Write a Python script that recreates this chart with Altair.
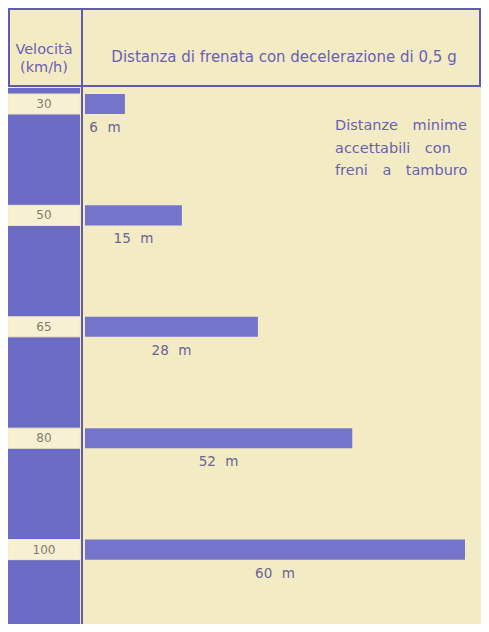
import altair as alt
import pandas as pd

# ---- data ----
speeds = [30, 50, 65, 80, 100]                 # km/h
distance_labels = [6, 15, 28, 52, 60]          # printed distances (m)
bar_lengths = [6.3, 15.3, 27.3, 42.2, 60.0]    # drawn bar lengths (m scale)
header_left = ["Velocità", "(km/h)"]
header_right = ["Distanza di frenata con decelerazione di 0,5 g"]
note_lines = ["Distanze\u2003minime", "accettabili\u2003con", "freni\u2003a\u2003tamburo"]

# ---- style ----
W, H = 473, 616
BG = "#f3ebc4"
BOX = "#f7f0d2"
BLUE = "#6c6bc5"
BAR = "#7475ca"
LINE = "#5d5cae"
PURPLE = "#6b5fb4"
NUM = "#857a6e"
LAB = "#6a6494"
FONT = "DejaVu Sans"

df = pd.DataFrame({
    "speed": [str(s) for s in speeds],
    "dist": distance_labels,
    "len": bar_lengths,
})
one = pd.DataFrame({"k": [0]})

yscale = alt.Scale(type="band", domain=[str(s) for s in speeds],
                   range=[40.3, 597.3], paddingInner=0.82, paddingOuter=0.41)
xscale = alt.Scale(domain=[0, 60], range=[77, 457])
Y = alt.Y("speed:O", scale=yscale, axis=None)

column = alt.Chart(one).mark_rect(color=BLUE).encode(
    x=alt.value(0), x2=alt.value(72), y=alt.value(80), y2=alt.value(H))

boxes = alt.Chart(df).mark_rect(color=BOX, stroke=BG, strokeWidth=1).encode(
    y=Y, x=alt.value(0), x2=alt.value(72))

bars = alt.Chart(df).mark_bar(color=BAR).encode(
    y=Y, x=alt.X("len:Q", scale=xscale, axis=None))

speed_txt = alt.Chart(df).mark_text(font=FONT, fontSize=12, color=NUM).encode(
    y=Y, x=alt.value(36), text="speed:N")

dist_txt = alt.Chart(df).transform_calculate(
    mid="datum.len / 2", lab="datum.dist + '\u2002\u2009m'"
).mark_text(font=FONT, fontSize=13.5, color=LAB, dy=24).encode(
    y=Y, x=alt.X("mid:Q", scale=xscale), text="lab:N")

def rule(x, x2, y, y2, w=2):
    return alt.Chart(one).mark_rule(color=LINE, strokeWidth=w).encode(
        x=alt.value(x), x2=alt.value(x2), y=alt.value(y), y2=alt.value(y2))

frame = [
    rule(0, W, 1, 1),
    rule(0, W, 78, 78),
    rule(1, 1, 0, 78),
    rule(W - 1, W - 1, 0, 78),
    rule(74, 74, 0, H),
]

hdr_left = alt.Chart(one).mark_text(
    text=header_left, font=FONT, fontSize=14.5, color=PURPLE,
    lineHeight=18, align="center", baseline="middle").encode(
    x=alt.value(36), y=alt.value(42))

hdr_right = alt.Chart(one).mark_text(
    text=header_right, font=FONT, fontSize=15, color=PURPLE,
    align="center", baseline="middle").encode(
    x=alt.value(276), y=alt.value(49))

note = alt.Chart(one).mark_text(
    text=note_lines, font=FONT, fontSize=14.5, color=PURPLE,
    lineHeight=22.5, align="left", baseline="middle").encode(
    x=alt.value(327), y=alt.value(118))

chart = alt.layer(column, boxes, bars, speed_txt, dist_txt, *frame,
                  hdr_left, hdr_right, note).properties(
    width=W, height=H, padding=0,
    autosize=alt.AutoSizeParams(type="none"),
    background=BG,
).configure_view(stroke=None)

chart.save("out.html", embed_options={"renderer": "svg", "actions": False})
